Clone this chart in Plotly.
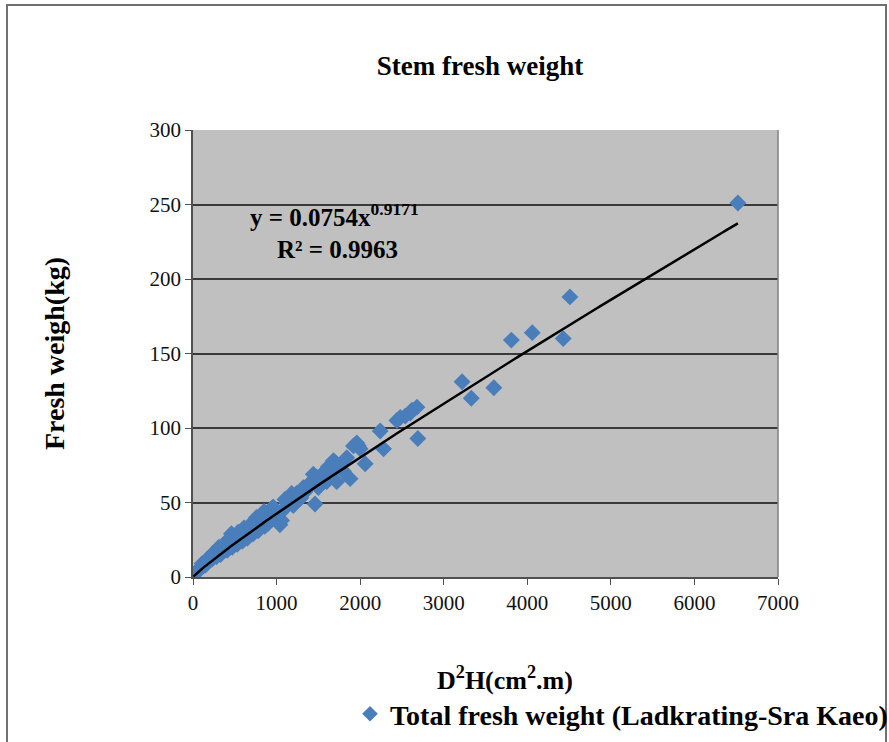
import numpy as np
import plotly.graph_objects as go

# Data (D2H in cm2.m, fresh weight in kg)
d2h = [5, 20, 40, 60, 80, 100, 110, 130, 150, 170, 180, 200, 230, 240, 250, 280,
       300, 310, 330, 360, 380, 410, 420, 440, 460, 470, 500, 530, 540, 560,
       590, 610, 620, 650, 680, 700, 720, 750, 760, 780, 820, 850, 860, 880,
       900, 920, 940, 960, 1000, 1040, 1060, 1080, 1100, 1120, 1160, 1180,
       1200, 1240, 1290, 1320, 1340, 1380, 1420, 1440, 1460, 1480, 1500,
       1540, 1560, 1600, 1620, 1640, 1680, 1700, 1720, 1760, 1800, 1840,
       1880, 1920, 1960, 1980, 2000, 2060, 2240, 2280, 2440, 2480, 2540,
       2600, 2620, 2680, 2690, 3220, 3330, 3600, 3810, 4060, 4430, 4510, 6520]
fresh = [1.5, 2, 3, 4.5, 5, 7, 9, 9, 8, 12, 11, 13, 12, 16, 15, 13.5,
         17, 20, 15, 19, 20, 18, 25, 22, 29, 20, 25, 22, 30, 27,
         24, 33, 29, 26, 31, 36, 29, 35, 40, 31, 37, 44, 34, 42,
         36, 38, 46, 47, 41, 35, 38, 45, 52, 50, 54, 56,
         48, 56, 53, 60, 57, 62, 64, 69, 49, 67, 60,
         66, 70, 64, 74, 72, 78, 77, 64, 75, 71, 80,
         66, 88, 90, 88, 86, 76, 98, 86, 105, 107, 108,
         110, 112, 114, 93, 131, 120, 127, 159, 164, 160, 188, 251]

fit_a = 0.0754
fit_b = 0.9171
x_ticks = [0, 1000, 2000, 3000, 4000, 5000, 6000, 7000]
y_ticks = [0, 50, 100, 150, 200, 250, 300]

serif = "Liberation Serif, Times New Roman, serif"

xf = np.linspace(min(d2h), max(d2h), 300)
yf = fit_a * xf ** fit_b

fig = go.Figure()
fig.add_trace(go.Scatter(
    x=d2h, y=fresh, mode="markers",
    name="<b>Total fresh weight (Ladkrating-Sra Kaeo)</b>",
    marker=dict(symbol="diamond", size=13, color="#4a7ebb", line=dict(width=0)),
))
fig.add_trace(go.Scatter(
    x=xf, y=yf, mode="lines", showlegend=False,
    line=dict(color="black", width=2.5),
))

fig.update_layout(
    width=889, height=742,
    margin=dict(l=193, r=111, t=130, b=165, autoexpand=False),
    paper_bgcolor="white",
    plot_bgcolor="#c0c0c0",
    font=dict(family=serif, color="black", size=20),
    title=dict(text="<b>Stem fresh weight</b>", x=480 / 889, xanchor="center",
               y=1 - 66 / 742, yanchor="middle",
               font=dict(family=serif, size=27, color="black")),
    showlegend=True,
    legend=dict(orientation="h", xref="container", yref="container",
                x=350 / 889, xanchor="left",
                y=1 - 714 / 742, yanchor="middle",
                bgcolor="rgba(0,0,0,0)", font=dict(family=serif, size=28, color="black"),
                itemwidth=30, itemsizing="constant"),
    xaxis=dict(
        range=[0, 7000], tickvals=x_ticks, ticktext=[str(v) for v in x_ticks],
        showgrid=False, zeroline=False, showline=True, linecolor="#505050", linewidth=1.5,
        ticks="outside", ticklen=6, tickcolor="#505050", tickwidth=1.2,
        tickfont=dict(family=serif, size=21, color="#111"),
    ),
    yaxis=dict(
        range=[0, 300], tickvals=y_ticks, ticktext=[str(v) for v in y_ticks],
        showgrid=True, gridcolor="#3a3a3a", gridwidth=1.5,
        zeroline=False, showline=True, linecolor="#505050", linewidth=1.5,
        ticks="outside", ticklen=6, tickcolor="#505050", tickwidth=1.2,
        tickfont=dict(family=serif, size=21, color="#111"),
        title=dict(text="<b>Fresh weigh(kg)</b>", standoff=77,
                   font=dict(family=serif, size=28, color="black")),
    ),
)

# x axis title (placed off-centre as in the original)
fig.add_annotation(x=(505 - 193) / 585, y=(577 - 678) / 447, xref="paper", yref="paper",
                   xanchor="center", yanchor="middle", showarrow=False,
                   text="<b>D<sup>2</sup>H(cm<sup>2</sup>.m)</b>",
                   font=dict(family=serif, size=26, color="black"))

# right border of the plot area
fig.add_shape(type="line", xref="paper", yref="paper", x0=1, x1=1, y0=0, y1=1,
              line=dict(color="#808080", width=1.5))
# outer frame
fig.add_shape(type="rect", xref="paper", yref="paper",
              x0=(7 - 193) / 585, x1=(886 - 193) / 585,
              y0=(577 - 760) / 447, y1=(577 - 5) / 447,
              line=dict(color="#707070", width=2), fillcolor="rgba(0,0,0,0)", layer="below")

fig.add_annotation(x=(248 - 193) / 585 * 7000, y=243, xref="x", yref="y",
                   xanchor="left", yanchor="middle",
                   text="<b>y = 0.0754x<sup>0.9171</sup></b>", showarrow=False,
                   font=dict(family=serif, size=25, color="black"))
fig.add_annotation(x=(275 - 193) / 585 * 7000, y=219.5, xref="x", yref="y",
                   xanchor="left", yanchor="middle",
                   text="<b>R² = 0.9963</b>", showarrow=False,
                   font=dict(family=serif, size=25, color="black"))

fig.write_html("out.html", config={"displayModeBar": False},
               post_script="document.body.style.margin='0';")
